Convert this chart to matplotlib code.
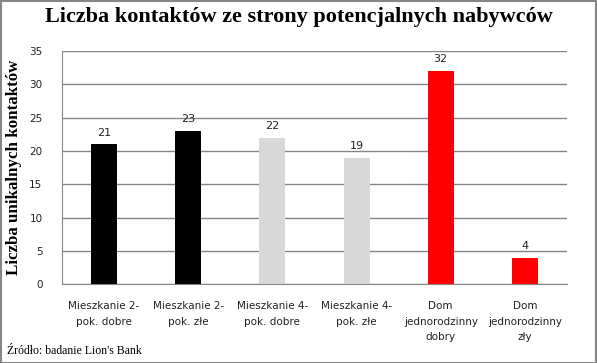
import matplotlib.pyplot as plt
import numpy as np

categories = ["Mieszkanie 2-\npok. dobre", "Mieszkanie 2-\npok. złe", "Mieszkanie 4-\npok. dobre",
              "Mieszkanie 4-\npok. złe", "Dom\njednorodzinny\ndobry", "Dom\njednorodzinny\nzły"]
values = [21, 23, 22, 19, 32, 4]
colors = ["#000000", "#000000", "#d9d9d9", "#d9d9d9", "#ff0000", "#ff0000"]

fig = plt.figure(figsize=(5.97, 3.63), dpi=100)
ax = fig.add_axes([0.1038, 0.2163, 0.8459, 0.6432])

x = np.arange(len(values))
ax.bar(x, values, width=0.31, color=colors, zorder=3)
for xi, v in zip(x, values):
    ax.text(xi, v + 1.0, str(v), ha='center', va='bottom', fontsize=8, color='#222222')

ax.set_xlim(-0.5, len(values) - 0.5)
ax.set_ylim(0, 35)
ax.set_yticks(range(0, 36, 5))
ax.yaxis.grid(True, color='#868686', linewidth=1.0, zorder=0)
ax.set_axisbelow(True)
ax.set_xticks(x)
ax.set_xticklabels(categories, fontsize=7.5, color='#222222', linespacing=1.7)
ax.tick_params(axis='y', labelsize=7.5, labelcolor='#222222', length=0, pad=14)
ax.tick_params(axis='x', length=0, pad=12)
for s in ['top', 'right']:
    ax.spines[s].set_visible(False)
ax.spines['left'].set_color('#868686')
ax.spines['bottom'].set_color('#868686')

ax.set_ylabel("Liczba unikalnych kontaktów", family='Liberation Serif', fontweight='bold',
              fontsize=12.2, labelpad=5)
fig.text(0.5, 0.953, "Liczba kontaktów ze strony potencjalnych nabywców", ha='center', va='center',
         family='Liberation Serif', fontweight='bold', fontsize=16)
fig.text(0.012, 0.033, "Źródło: badanie Lion's Bank", ha='left', va='center',
         family='Liberation Serif', fontsize=8.5)

fig.patches.append(plt.Rectangle((0.001, 0.001), 0.997, 0.996, transform=fig.transFigure,
                                 fill=False, edgecolor='#868686', linewidth=1.5))

fig.savefig("out.png", dpi=100)
